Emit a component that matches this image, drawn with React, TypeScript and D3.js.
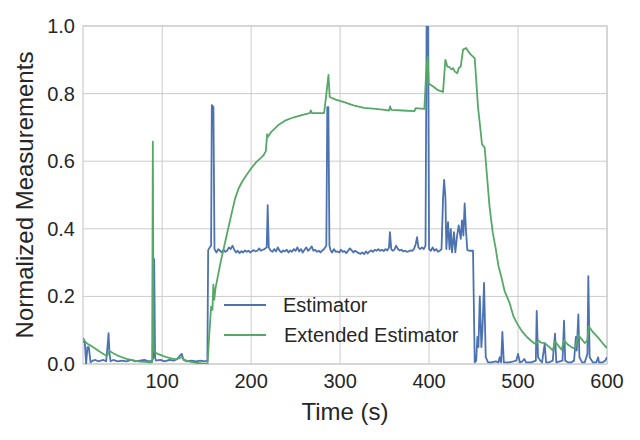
import React from 'react';
import * as d3 from 'd3';

// [time (s), normalized value]
const estimator: [number, number][] = [
  [11, 0.066], [13, 0.065], [14.5, 0.0], [16, 0.05], [17.5, 0.05], [19.5, 0.005],
  [22, 0.01], [25, 0.012], [28, 0.008], [31, 0.01], [34, 0.012], [37, 0.008],
  [38.5, 0.05], [39.7, 0.091], [40.8, 0.03], [42, 0.008], [45, 0.012], [50, 0.008],
  [55, 0.01], [60, 0.008], [65, 0.012], [70, 0.008], [75, 0.01], [80, 0.012],
  [85, 0.008], [89, 0.01], [90, 0.02], [91, 0.31], [92, 0.02], [93, 0.01],
  [98, 0.012], [103, 0.008], [108, 0.012], [113, 0.01], [117, 0.015], [120, 0.025],
  [122, 0.03], [124, 0.012], [128, 0.008], [133, 0.01], [138, 0.008], [143, 0.01],
  [148, 0.008], [150.8, 0.01], [151.7, 0.337], [153.5, 0.345], [155, 0.35], [155.8, 0.766],
  [157.6, 0.76], [158.8, 0.34], [161, 0.33], [163, 0.34], [165, 0.335], [167, 0.33],
  [169, 0.338], [171, 0.332], [173, 0.335], [175, 0.345], [177, 0.34], [179, 0.35],
  [181, 0.338], [183, 0.33], [185, 0.335], [187, 0.328], [189, 0.334], [191, 0.33],
  [193, 0.336], [195, 0.332], [197, 0.335], [199, 0.33], [201, 0.334], [203, 0.337],
  [205, 0.333], [207, 0.335], [209, 0.342], [211, 0.335], [213, 0.338], [215, 0.34],
  [217.5, 0.345], [218.6, 0.47], [219.8, 0.345], [222, 0.335], [224, 0.332], [226, 0.34],
  [228, 0.333], [230, 0.345], [232, 0.335], [234, 0.33], [236, 0.336], [238, 0.333],
  [240, 0.338], [242, 0.33], [244, 0.336], [246, 0.332], [248, 0.34], [250, 0.335],
  [252, 0.345], [254, 0.333], [256, 0.34], [258, 0.33], [260, 0.338], [262, 0.345],
  [264, 0.335], [266, 0.34], [268, 0.348], [270, 0.335], [272, 0.338], [274, 0.332],
  [276, 0.335], [278, 0.33], [280, 0.336], [282, 0.34], [284.5, 0.35], [285.6, 0.76],
  [286.8, 0.76], [288, 0.35], [289.5, 0.335], [291, 0.33], [293, 0.34], [295, 0.332],
  [297, 0.333], [299, 0.33], [301, 0.338], [303, 0.332], [305, 0.334], [307, 0.328],
  [309, 0.335], [311, 0.342], [313, 0.336], [315, 0.33], [317, 0.335], [319, 0.331],
  [321, 0.328], [323, 0.326], [325, 0.33], [327, 0.325], [329, 0.333], [331, 0.327],
  [333, 0.333], [335, 0.336], [337, 0.332], [339, 0.338], [341, 0.335], [343, 0.34],
  [345, 0.335], [347, 0.338], [349, 0.334], [351, 0.34], [353, 0.336], [355, 0.345],
  [356, 0.39], [357.5, 0.34], [359, 0.335], [361, 0.338], [363, 0.35], [365, 0.34],
  [367, 0.336], [369, 0.338], [371, 0.333], [373, 0.335], [375, 0.332], [377, 0.333],
  [379, 0.336], [381, 0.335], [383, 0.34], [385, 0.355], [386.5, 0.375], [388, 0.345],
  [390, 0.34], [392, 0.345], [394, 0.34], [396, 0.35], [397.2, 1.0], [398.8, 1.0],
  [400, 0.34], [402, 0.335], [404, 0.345], [406, 0.335], [408, 0.34], [410, 0.332],
  [412, 0.335], [414, 0.34], [415.7, 0.49], [416.9, 0.545], [418.4, 0.49], [419.4, 0.34],
  [421.3, 0.42], [423, 0.34], [424.4, 0.4], [425.8, 0.33], [428, 0.39], [429.5, 0.33],
  [431.5, 0.38], [433.3, 0.41], [435.6, 0.37], [437, 0.425], [438.6, 0.38], [440, 0.475],
  [441.6, 0.39], [443, 0.337], [446, 0.335], [449.4, 0.335], [451.3, 0.005], [453, 0.01],
  [454.3, 0.08], [455.5, 0.05], [457, 0.2], [458.8, 0.05], [460, 0.1], [461.8, 0.24],
  [463.7, 0.02], [466.3, 0.005], [470, 0.005], [475, 0.008], [478, 0.005], [479.4, 0.02],
  [481, 0.005], [482.4, 0.095], [484, 0.005], [490, 0.005], [495, 0.008], [498, 0.01],
  [500, 0.03], [502, 0.005], [505, 0.008], [507, 0.015], [509, 0.005], [515, 0.005],
  [520, 0.01], [521, 0.157], [522.5, 0.02], [525, 0.01], [527, 0.005], [530, 0.06],
  [531.5, 0.005], [535, 0.005], [539, 0.01], [541.6, 0.09], [543, 0.005], [547, 0.008],
  [550, 0.01], [551.7, 0.128], [553, 0.01], [556, 0.005], [560, 0.005], [563, 0.01],
  [565, 0.08], [566, 0.04], [567.8, 0.147], [569, 0.02], [572, 0.005], [575, 0.005],
  [578, 0.03], [579, 0.26], [580.5, 0.02], [584, 0.005], [588, 0.005], [590, 0.02],
  [591, 0.005], [595, 0.005], [598, 0.01], [600, 0.02],
];

const extendedEstimator: [number, number][] = [
  [11, 0.077], [13, 0.068], [15, 0.062], [17, 0.058], [20, 0.054], [25, 0.045],
  [30, 0.036], [35, 0.028], [38, 0.024], [39.7, 0.036], [41, 0.038], [45, 0.032],
  [50, 0.025], [55, 0.02], [60, 0.015], [65, 0.012], [70, 0.009], [75, 0.007],
  [80, 0.006], [85, 0.005], [88.7, 0.005], [89.5, 0.658], [90.3, 0.05], [91.5, 0.035],
  [95, 0.03], [100, 0.025], [105, 0.02], [110, 0.017], [115, 0.014], [120, 0.018],
  [122, 0.02], [125, 0.012], [130, 0.008], [135, 0.005], [140, 0.003], [145, 0.002],
  [151, 0.0], [153, 0.09], [155, 0.17], [156.5, 0.16], [157.5, 0.235], [158.5, 0.19],
  [160, 0.225], [163, 0.265], [166, 0.305], [169, 0.34], [172, 0.375], [175, 0.41],
  [178, 0.445], [182, 0.49], [186, 0.52], [190, 0.54], [195, 0.56], [201, 0.582],
  [206, 0.598], [211, 0.61], [214, 0.618], [216.5, 0.63], [218, 0.68], [219, 0.672],
  [222, 0.685], [226, 0.695], [231, 0.708], [238, 0.72], [245, 0.727], [248, 0.73],
  [255, 0.735], [262, 0.74], [266, 0.742], [267, 0.75], [268.5, 0.742], [275, 0.742],
  [282, 0.742], [284.6, 0.8], [286.9, 0.855], [288.3, 0.79], [295, 0.782], [304.5, 0.775],
  [315, 0.765], [327, 0.758], [340, 0.755], [350, 0.752], [355, 0.75], [356.2, 0.762],
  [357.5, 0.752], [370, 0.75], [383.5, 0.748], [385, 0.757], [394.7, 0.755], [396.6, 0.855],
  [398.5, 0.91], [399.6, 0.83], [405, 0.82], [410, 0.81], [415.7, 0.805], [418.3, 0.9],
  [420.5, 0.88], [423, 0.878], [425, 0.872], [427, 0.875], [429, 0.865], [431.8, 0.86],
  [433.3, 0.875], [435.6, 0.88], [438.2, 0.93], [441.6, 0.935], [444, 0.925], [447.5, 0.914],
  [451.3, 0.905], [453, 0.84], [455, 0.76], [457.5, 0.7], [459.5, 0.65], [462.5, 0.64],
  [465, 0.56], [468, 0.465], [471.5, 0.39], [475, 0.34], [478, 0.29], [481, 0.26],
  [485, 0.215], [490.6, 0.18], [495, 0.14], [500, 0.115], [505, 0.095], [510, 0.08],
  [515, 0.068], [519, 0.06], [520.5, 0.06], [522.5, 0.07], [526, 0.063], [530, 0.062],
  [533, 0.055], [536, 0.048], [539, 0.04], [541.6, 0.066], [545, 0.055], [549, 0.042],
  [551.7, 0.07], [555, 0.06], [560, 0.05], [564, 0.045], [567.8, 0.086], [571, 0.075],
  [575, 0.062], [578, 0.07], [579.5, 0.112], [584, 0.095], [590, 0.078], [595, 0.062],
  [600, 0.047],
];

const xTicks = [100, 200, 300, 400, 500, 600];
const yTicks = [0, 0.2, 0.4, 0.6, 0.8, 1.0];
const seriesNames = ['Estimator', 'Extended Estimator'];
const colors = ['#4C72B0', '#55A868'];

const W = 640;
const H = 440;
const margin = { top: 26, right: 33, bottom: 76, left: 83 };
const font = '"Liberation Sans", Arial, sans-serif';
const textColor = '#262626';

const App: React.FC = () => {
  const innerW = W - margin.left - margin.right;
  const innerH = H - margin.top - margin.bottom;

  const x = d3.scaleLinear().domain([11, 600]).range([0, innerW]);
  const y = d3.scaleLinear().domain([0, 1]).range([innerH, 0]);

  const line = d3
    .line<[number, number]>()
    .x((d) => x(d[0]))
    .y((d) => y(d[1]));

  const data = [estimator, extendedEstimator];

  return (
    <svg
      width={W}
      height={H}
      style={{ position: 'absolute', left: 0, top: 0, background: '#fff' }}
      fontFamily={font}
    >
      <defs>
        <clipPath id="plot-clip">
          <rect x={0} y={0} width={innerW} height={innerH} />
        </clipPath>
      </defs>
      <g transform={`translate(${margin.left},${margin.top})`}>
        {/* grid */}
        {xTicks.map((t) => (
          <line key={`gx${t}`} x1={x(t)} x2={x(t)} y1={0} y2={innerH} stroke="#cccccc" strokeWidth={1} />
        ))}
        {yTicks.map((t) => (
          <line key={`gy${t}`} x1={0} x2={innerW} y1={y(t)} y2={y(t)} stroke="#cccccc" strokeWidth={1} />
        ))}
        <rect x={0} y={0} width={innerW} height={innerH} fill="none" stroke="#cccccc" strokeWidth={1.2} />

        {/* series */}
        <g clipPath="url(#plot-clip)">
          {data.map((s, i) => (
            <path
              key={seriesNames[i]}
              d={line(s) || ''}
              fill="none"
              stroke={colors[i]}
              strokeWidth={1.8}
              strokeLinejoin="round"
            />
          ))}
        </g>

        {/* tick labels */}
        {xTicks.map((t) => (
          <text key={`tx${t}`} x={x(t)} y={innerH + 24} textAnchor="middle" fontSize={20} fill={textColor}>
            {t}
          </text>
        ))}
        {yTicks.map((t) => (
          <text key={`ty${t}`} x={-8} y={y(t) + 7} textAnchor="end" fontSize={20} fill={textColor}>
            {t.toFixed(1)}
          </text>
        ))}

        {/* axis labels */}
        <text x={innerW / 2} y={innerH + 56} textAnchor="middle" fontSize={24} fill={textColor}>
          Time (s)
        </text>
        <text
          transform={`translate(${-50},${innerH / 2}) rotate(-90)`}
          textAnchor="middle"
          fontSize={24}
          fill={textColor}
        >
          Normalized Measurements
        </text>

        {/* legend */}
        {seriesNames.map((name, i) => (
          <g key={`lg${name}`} transform={`translate(${141},${279 + i * 30})`}>
            <line x1={0} x2={42} y1={0} y2={0} stroke={colors[i]} strokeWidth={2.2} />
            <text x={59 + i} y={7} fontSize={20} fill={textColor}>
              {name}
            </text>
          </g>
        ))}
      </g>
    </svg>
  );
};

export default App;
